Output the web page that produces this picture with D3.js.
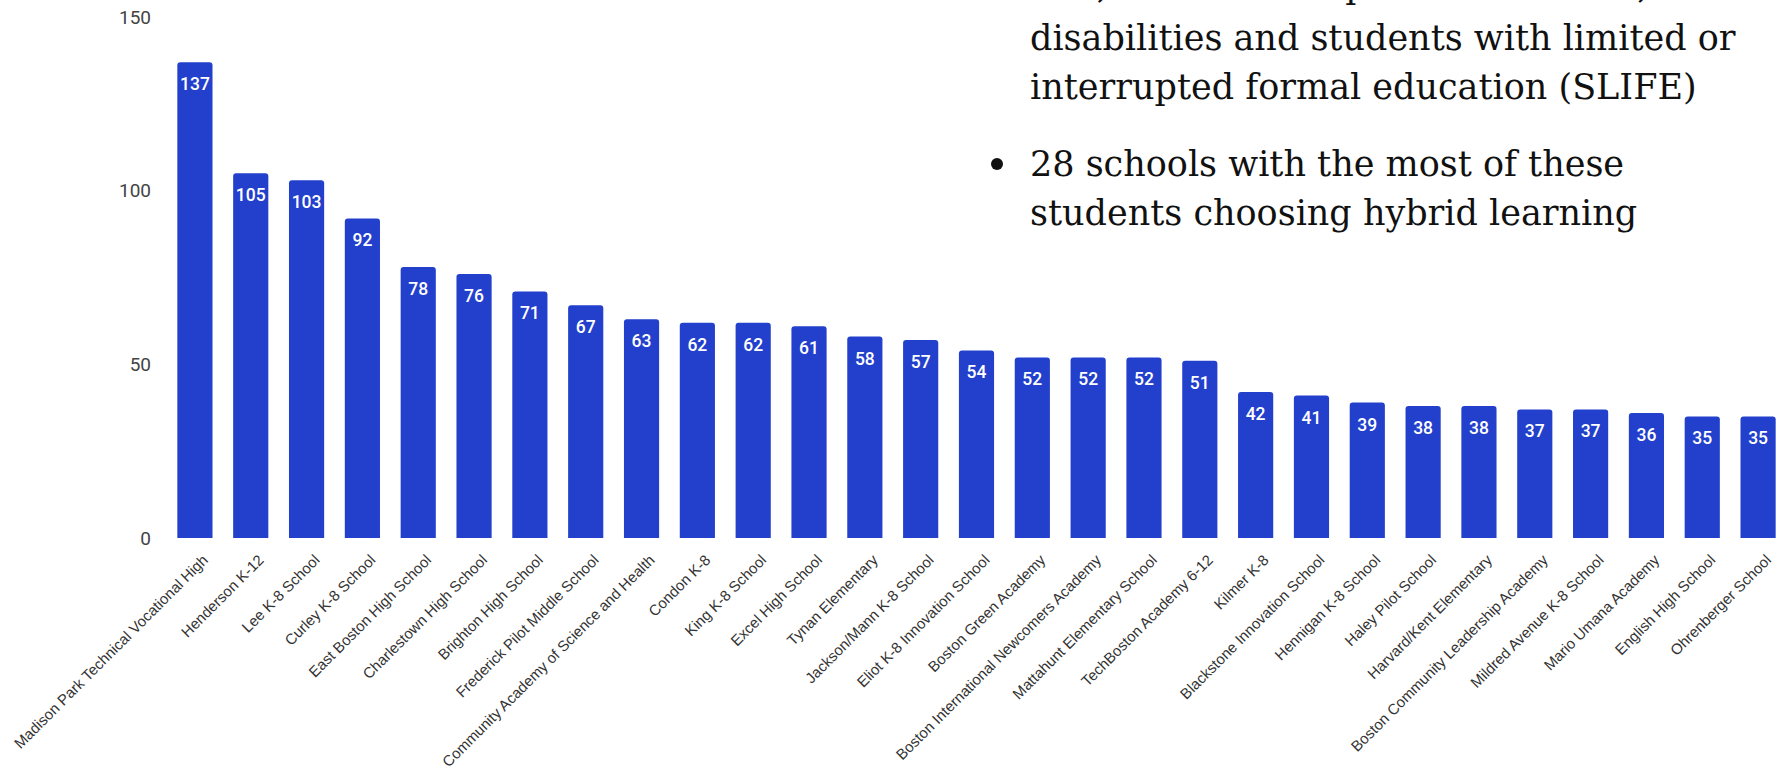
<!DOCTYPE html>
<html>
<head>
<meta charset="utf-8">
<script src="https://cdn.jsdelivr.net/npm/d3@7"></script>
<style>
  body { margin: 0; background: #fff; }
  .tick-y { font-family: Roboto, sans-serif; font-size: 19px; fill: #444; }
  .bar-label { font-family: Roboto, sans-serif; font-size: 17.5px; font-weight: 500; fill: #fff; }
  .x-label { font-family: "Liberation Sans", Arial, sans-serif; font-size: 15px; fill: #333; }
  .note { font-family: "DejaVu Serif", serif; font-size: 35px; fill: #111; }
</style>
</head>
<body>
<script>
const schools = [
  'Madison Park Technical Vocational High', 'Henderson K-12', 'Lee K-8 School',
  'Curley K-8 School', 'East Boston High School', 'Charlestown High School',
  'Brighton High School', 'Frederick Pilot Middle School',
  'Community Academy of Science and Health', 'Condon K-8', 'King K-8 School',
  'Excel High School', 'Tynan Elementary', 'Jackson/Mann K-8 School',
  'Eliot K-8 Innovation School', 'Boston Green Academy',
  'Boston International Newcomers Academy', 'Mattahunt Elementary School',
  'TechBoston Academy 6-12', 'Kilmer K-8', 'Blackstone Innovation School',
  'Hennigan K-8 School', 'Haley Pilot School', 'Harvard/Kent Elementary',
  'Boston Community Leadership Academy', 'Mildred Avenue K-8 School',
  'Mario Umana Academy', 'English High School', 'Ohrenberger School'
];
const students = [137, 105, 103, 92, 78, 76, 71, 67, 63, 62, 62, 61, 58, 57, 54,
  52, 52, 52, 51, 42, 41, 39, 38, 38, 37, 37, 36, 35, 35];
const yTicks = [0, 50, 100, 150];

// first line is cut by the top edge in the source slide
const noteLines = [
  { text: 'ELs, students in special education, students with', bullet: false },
  { text: 'disabilities and students with limited or', bullet: false },
  { text: 'interrupted formal education (SLIFE)', bullet: false },
  { text: '28 schools with the most of these', bullet: true },
  { text: 'students choosing hybrid learning', bullet: false }
];

const width = 1781, height = 775;
const svg = d3.select('body').append('svg')
  .attr('width', width).attr('height', height)
  .attr('viewBox', `0 0 ${width} ${height}`);

const x = d3.scaleBand()
  .domain(schools)
  .range([167, 1786])
  .paddingInner(0.37)
  .paddingOuter(0.185);

const y = d3.scaleLinear()
  .domain([0, 150])
  .range([538, 17]);

// y axis labels (no lines)
svg.append('g')
  .selectAll('text')
  .data(yTicks)
  .join('text')
    .attr('class', 'tick-y')
    .attr('x', 151)
    .attr('y', d => y(d))
    .attr('dy', '0.35em')
    .attr('text-anchor', 'end')
    .text(d => d);

// bars with rounded tops
const r = 3;
const barPath = d => {
  const x0 = x(d.name), w = x.bandwidth(), y0 = y(d.value), y1 = y(0);
  return `M${x0},${y1} V${y0 + r} Q${x0},${y0} ${x0 + r},${y0} H${x0 + w - r} ` +
    `Q${x0 + w},${y0} ${x0 + w},${y0 + r} V${y1} Z`;
};
const rows = schools.map((name, i) => ({ name, value: students[i] }));

svg.append('g')
  .selectAll('path')
  .data(rows)
  .join('path')
    .attr('d', barPath)
    .attr('fill', '#2340cc');

svg.append('g')
  .selectAll('text')
  .data(rows)
  .join('text')
    .attr('class', 'bar-label')
    .attr('x', d => x(d.name) + x.bandwidth() / 2)
    .attr('y', d => y(d.value) + 28)
    .attr('text-anchor', 'middle')
    .text(d => d.value);

// rotated category labels
svg.append('g')
  .selectAll('text')
  .data(schools)
  .join('text')
    .attr('class', 'x-label')
    .attr('text-anchor', 'end')
    .attr('transform', d => `translate(${x(d) + x.bandwidth() / 2 + 14}, 561) rotate(-45)`)
    .text(d => d);

// notes at top right
const baselines = [-2, 50, 99, 176, 225];
const notes = svg.append('g');
noteLines.forEach((line, i) => {
  if (line.bullet) {
    notes.append('circle')
      .attr('cx', 997).attr('cy', baselines[i] - 12)
      .attr('r', 6)
      .attr('fill', '#111');
  }
  notes.append('text')
    .attr('class', 'note')
    .attr('x', 1030).attr('y', baselines[i])
    .text(line.text);
});
</script>
</body>
</html>
